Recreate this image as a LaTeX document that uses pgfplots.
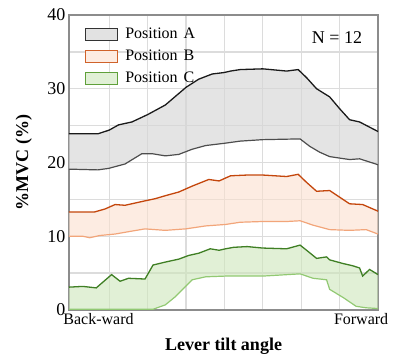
\documentclass[border=0pt]{standalone}
\usepackage{fontspec}
\setmainfont{Liberation Serif}
\usepackage{pgfplots}
\usepackage{pgfplotstable}
\pgfplotsset{compat=1.18}
\usepgfplotslibrary{fillbetween}
\definecolor{gridgray}{HTML}{DCDCDC}
\definecolor{axgray}{HTML}{8C8C8C}
\definecolor{Aup}{HTML}{1A1A1A}
\definecolor{Alo}{HTML}{4D4D4D}
\definecolor{Afill}{HTML}{D6D6D6}
\definecolor{Bup}{HTML}{C4460C}
\definecolor{Blo}{HTML}{F2A57A}
\definecolor{Bfill}{HTML}{FBE0CE}
\definecolor{Cup}{HTML}{3F7F24}
\definecolor{Clo}{HTML}{92C973}
\definecolor{Cfill}{HTML}{CDE6BA}
\definecolor{Aleg}{HTML}{333333}
\definecolor{Bleg}{HTML}{D0622A}
\definecolor{Cleg}{HTML}{5FA03A}

\pgfplotstableread{
x y
-0.05 23.9
0.71 23.9
1.00 24.4
1.24 25.1
1.59 25.5
2.00 26.5
2.46 27.8
3.00 30.2
3.33 31.3
3.68 32.0
3.99 32.2
4.16 32.4
4.41 32.6
5.00 32.7
5.62 32.4
5.92 32.6
6.14 31.5
6.40 30.0
6.74 28.9
7.00 27.3
7.26 25.8
7.52 25.5
8.00 24.2
}\tAup
\pgfplotstableread{
x y
-0.05 19.1
0.70 19.0
0.98 19.2
1.41 19.8
1.85 21.2
2.11 21.2
2.46 20.9
2.81 21.1
3.16 21.8
3.51 22.3
3.99 22.6
4.41 22.9
5.00 23.1
5.97 23.2
6.22 22.2
6.48 21.4
6.74 20.8
7.00 20.6
7.26 20.4
7.52 20.5
8.00 19.7
}\tAlo
\pgfplotstableread{
x y
-0.05 13.3
0.62 13.3
0.89 13.7
1.15 14.3
1.41 14.2
1.67 14.5
1.93 14.8
2.20 15.1
2.46 15.5
2.81 16.0
3.16 16.8
3.59 17.7
3.86 17.5
4.03 17.9
4.16 18.2
4.59 18.3
5.00 18.3
5.62 18.1
5.92 18.4
6.14 17.3
6.40 16.1
6.74 16.2
7.00 15.3
7.26 14.4
7.60 14.3
8.00 13.4
}\tBup
\pgfplotstableread{
x y
-0.05 10.0
0.31 10.0
0.49 9.8
0.75 10.1
1.15 10.3
1.59 10.7
1.93 11.0
2.46 10.8
2.99 11.0
3.51 11.4
4.03 11.6
4.41 11.9
5.00 12.0
5.62 12.0
5.97 12.1
6.31 11.5
6.74 10.9
7.26 10.8
7.69 10.9
8.00 10.3
}\tBlo
\pgfplotstableread{
x y
-0.05 3.1
0.31 3.2
0.66 3.0
1.06 4.8
1.28 3.9
1.50 4.3
1.93 4.2
2.14 6.1
2.46 6.5
2.81 6.9
3.07 7.4
3.33 7.7
3.63 8.3
3.86 8.1
4.03 8.3
4.24 8.5
4.59 8.6
5.00 8.4
5.62 8.3
5.97 8.8
6.14 8.1
6.40 7.0
6.66 7.2
6.74 6.8
7.09 6.3
7.34 6.0
7.52 5.7
7.60 4.6
7.78 5.5
8.00 4.8
}\tCup
\pgfplotstableread{
x y
-0.05 0.1
2.14 0.1
2.46 0.7
2.72 1.8
2.99 3.2
3.16 4.1
3.51 4.5
4.03 4.6
4.59 4.6
5.00 4.6
5.97 4.9
6.31 4.3
6.66 4.1
6.74 2.8
7.09 1.7
7.43 0.5
7.69 0.3
8.00 0.2
}\tClo

\begin{document}
\begin{tikzpicture}
\begin{axis}[
  name=ax,
  scale only axis, width=309pt, height=295pt,
  xmin=-0.05, xmax=8, ymin=0, ymax=40,
  xtick={1,...,7}, xticklabels={},
  ytick={0,10,...,40}, minor ytick={5,15,25,35},
  grid=both,
  major grid style={draw=gridgray, line width=1.3pt},
  minor grid style={draw=gridgray, line width=1.3pt},
  major tick length=0pt, minor tick length=0pt,
  axis line style={draw=axgray, line width=1.2pt},
  extra x ticks={0.72,7.56},
  extra x tick labels={Back-ward,Forward},
  extra x tick style={grid=none, major tick length=0pt,
     tick label style={font=\fontsize{16}{18}\selectfont}},
  yticklabel style={font=\fontsize{18}{20}\selectfont},
  /pgf/number format/assume math mode=true,
  xlabel={\textbf{Lever tilt angle}},
  ylabel={\textbf{\%MVC (\%)}},
  xlabel style={font=\fontsize{18}{20}\selectfont, at={(axis description cs:0.5,-0.136)}, anchor=base},
  ylabel style={font=\fontsize{18}{20}\selectfont, at={(axis description cs:-0.146,0.5)}, anchor=center},
  legend style={at={(axis description cs:0.052,0.963)}, anchor=north west,
     draw=none, fill=none, inner sep=0pt, row sep=6pt,
     font=\fontsize{16}{18}\selectfont,
     nodes={inner sep=1pt, text height=11pt, text depth=3pt}},
  legend cell align=left,
  legend image code/.code={\draw[#1] (0pt,-6pt) rectangle (32pt,6pt);},
]
\addlegendimage{fill=Afill!70, draw=Aleg, line width=1pt}
\addlegendentry{\hspace{6pt}Position\hspace{6pt}A}
\addlegendimage{fill=Bfill!60, draw=Bleg, line width=1pt}
\addlegendentry{\hspace{6pt}Position\hspace{6pt}B}
\addlegendimage{fill=Cfill!60, draw=Cleg, line width=1pt}
\addlegendentry{\hspace{6pt}Position\hspace{6pt}C}

\addplot[draw=none, name path=au, forget plot] table {\tAup};
\addplot[draw=none, name path=al, forget plot] table {\tAlo};
\addplot[draw=none, name path=bu, forget plot] table {\tBup};
\addplot[draw=none, name path=bl, forget plot] table {\tBlo};
\addplot[draw=none, name path=cu, forget plot] table {\tCup};
\addplot[draw=none, name path=cl, forget plot] table {\tClo};
\addplot[fill=Afill, fill opacity=0.65, forget plot] fill between[of=au and al];
\addplot[fill=Bfill, fill opacity=0.6, forget plot] fill between[of=bu and bl];
\addplot[fill=Cfill, fill opacity=0.6, forget plot] fill between[of=cu and cl];

\addplot[Aup, line width=1.3pt, forget plot] table {\tAup};
\addplot[Alo, line width=1.2pt, forget plot] table {\tAlo};
\addplot[Bup, line width=1.3pt, forget plot] table {\tBup};
\addplot[Blo, line width=1.2pt, forget plot] table {\tBlo};
\addplot[Cup, line width=1.3pt, forget plot] table {\tCup};
\addplot[Clo, line width=1.2pt, forget plot] table {\tClo};

\node[font=\fontsize{18}{20}\selectfont] at (axis cs:6.93,37.0) {N = 12};
\end{axis}
\pgfresetboundingbox
\path[use as bounding box] ([xshift=-69pt,yshift=-50pt]ax.south west) rectangle ++(407pt,360pt);
\end{tikzpicture}
\end{document}
